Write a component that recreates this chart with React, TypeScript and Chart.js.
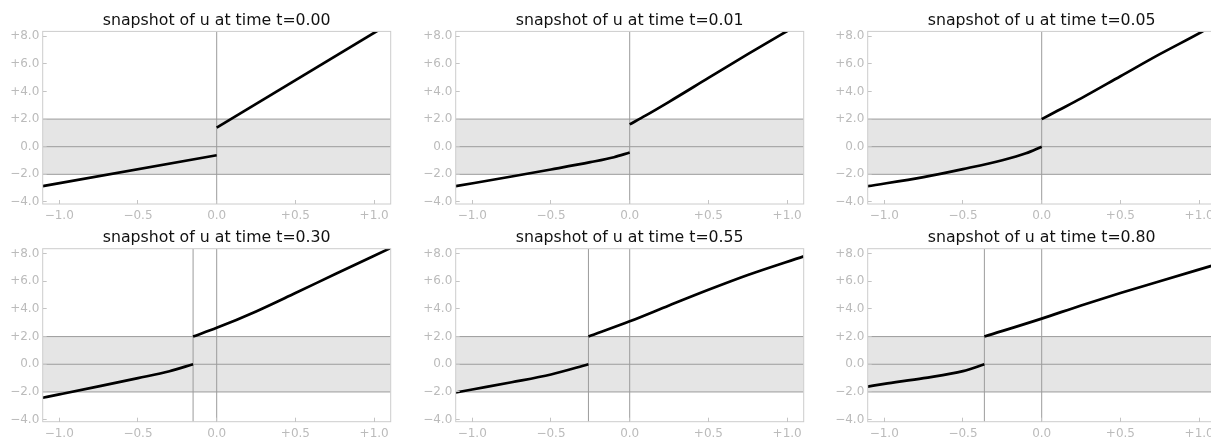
import React, { useEffect, useRef } from 'react';
import { Chart, registerables } from 'chart.js';

Chart.register(...registerables);

// ---------- data ----------
const xRange = [-1.105, 1.105];
const yRange = [-4.15, 8.35];
const xTickValues = [-1, -0.5, 0, 0.5, 1];
const xTickLabels = ['\u22121.0', '\u22120.5', '0.0', '+0.5', '+1.0'];
const yTickValues = [-4, -2, 0, 2, 4, 6, 8];
const yTickLabels = ['\u22124.0', '\u22122.0', '0.0', '+2.0', '+4.0', '+6.0', '+8.0'];
const bandLevels = [-2, 0, 2];
const times = ['0.00', '0.01', '0.05', '0.30', '0.55', '0.80'];
const shockX = [0, 0, 0, -0.15, -0.262, -0.364];

const leftT000: number[][] = [[-1.105, -2.86], [0, -0.62]];
const rightT000: number[][] = [[0, 1.38], [1.105, 8.97]];

const leftT001: number[][] = [[-1.105, -2.86], [-0.75, -2.16], [-0.5, -1.65], [-0.25, -1.12], [-0.1, -0.76], [0, -0.42]];
const rightT001: number[][] = [[0, 1.62], [0.1, 2.25], [0.25, 3.25], [0.5, 4.98], [0.75, 6.7], [1.0, 8.38], [1.105, 9.08]];

const leftT005: number[][] = [[-1.105, -2.86], [-0.75, -2.2], [-0.5, -1.62], [-0.25, -0.98], [-0.1, -0.48], [0, 0]];
const rightT005: number[][] = [[0, 2.0], [0.1, 2.6], [0.25, 3.5], [0.5, 5.1], [0.75, 6.7], [1.017, 8.32], [1.105, 8.9]];

const leftT030: number[][] = [[-1.105, -2.42], [-1.0, -2.18], [-0.75, -1.6], [-0.5, -1.0], [-0.3, -0.5], [-0.15, 0]];
const rightT030: number[][] = [[-0.15, 2.0], [0, 2.63], [0.25, 3.82], [0.5, 5.15], [0.75, 6.5], [1.105, 8.4]];

const leftT055: number[][] = [[-1.105, -2.04], [-1.0, -1.82], [-0.75, -1.3], [-0.5, -0.74], [-0.262, 0]];
const rightT055: number[][] = [[-0.262, 2.0], [0, 3.1], [0.25, 4.25], [0.5, 5.38], [0.75, 6.45], [1.105, 7.8]];

const leftT080: number[][] = [[-1.105, -1.61], [-1.0, -1.42], [-0.75, -1.0], [-0.5, -0.5], [-0.364, 0]];
const rightT080: number[][] = [[-0.364, 2.0], [0, 3.3], [0.25, 4.25], [0.5, 5.15], [0.75, 6.0], [1.105, 7.2]];

const leftCurves = [leftT000, leftT001, leftT005, leftT030, leftT055, leftT080];
const rightCurves = [rightT000, rightT001, rightT005, rightT030, rightT055, rightT080];

// ---------- layout ----------
const COL_LEFT = [0, 413, 825];
const ROW_TOP = [0, 217];
const ROW_H = [225, 222];
const CANVAS_W = 401;
const Y_AXIS_W = 42.7;
const PLOT_W = 348;
const X_AXIS_H = [21, 17.3];
const TITLE_PAD = [{ top: 11.4, bottom: 1.1 }, { top: 11.7, bottom: 1.1 }];

const FONT = 'DejaVu Sans';

const toPts = (arr: number[][]) => arr.map(([x, y]) => ({ x, y }));

const frame = {
  id: 'frame',
  afterDatasetsDraw(chart: any) {
    const { ctx, chartArea } = chart;
    ctx.save();
    ctx.strokeStyle = '#cccccc';
    ctx.lineWidth = 1;
    ctx.strokeRect(chartArea.left, chartArea.top, chartArea.right - chartArea.left, chartArea.bottom - chartArea.top);
    ctx.restore();
  },
};

function makeConfig(i: number) {
  const row = Math.floor(i / 3);
  const curveStyle = {
    borderColor: '#000000',
    borderWidth: 2.7,
    pointRadius: 0,
    fill: false,
    cubicInterpolationMode: 'monotone',
    clip: 0,
    order: 0,
  };
  const gray = { borderColor: '#9c9c9c', borderWidth: 1, pointRadius: 0, fill: false, clip: 0, order: 1 };
  const verticals = i >= 3 ? [0, shockX[i]] : [0];
  const datasets: any[] = [
    { ...curveStyle, data: toPts(leftCurves[i]) },
    { ...curveStyle, data: toPts(rightCurves[i]) },
    ...bandLevels.map((lv) => ({ ...gray, data: [{ x: xRange[0], y: lv }, { x: xRange[1], y: lv }] })),
    ...verticals.map((v) => ({ ...gray, data: [{ x: v, y: yRange[0] }, { x: v, y: yRange[1] }] })),
    {
      data: [{ x: xRange[0], y: bandLevels[2] }, { x: xRange[1], y: bandLevels[2] }],
      borderWidth: 0,
      pointRadius: 0,
      backgroundColor: '#e5e5e5',
      fill: { value: bandLevels[0] },
      clip: 0,
      order: 2,
    },
  ];
  const tickFont = { family: FONT, size: 12 };
  return {
    type: 'line',
    data: { datasets },
    options: {
      animation: false,
      responsive: false,
      events: [],
      layout: { padding: { left: 0, right: CANVAS_W - Y_AXIS_W - PLOT_W, top: 0, bottom: 0 } },
      plugins: {
        legend: { display: false },
        tooltip: { enabled: false },
        title: {
          display: true,
          text: 'snapshot of u at time t=' + times[i],
          fullSize: false,
          color: '#111111',
          font: { family: FONT, size: 15.75, weight: 'normal', lineHeight: 1.2 },
          padding: TITLE_PAD[row],
        },
      },
      scales: {
        x: {
          type: 'linear',
          min: xRange[0],
          max: xRange[1],
          afterBuildTicks: (s: any) => { s.ticks = xTickValues.map((v) => ({ value: v })); },
          afterFit: (s: any) => { s.height = X_AXIS_H[row]; },
          grid: { drawOnChartArea: false, drawTicks: true, tickLength: -4, color: '#c4c4c4', z: 1 },
          border: { display: false },
          ticks: {
            padding: 8.5,
            color: '#bbbbbb',
            font: tickFont,
            maxRotation: 0,
            autoSkip: false,
            callback: (_v: any, idx: number) => xTickLabels[idx],
          },
        },
        y: {
          type: 'linear',
          min: yRange[0],
          max: yRange[1],
          afterBuildTicks: (s: any) => { s.ticks = yTickValues.map((v) => ({ value: v })); },
          afterFit: (s: any) => { s.width = Y_AXIS_W; },
          grid: { drawOnChartArea: false, drawTicks: true, tickLength: -4, color: '#c4c4c4', z: 1 },
          border: { display: false },
          ticks: {
            padding: 7.4,
            color: '#bbbbbb',
            font: tickFont,
            autoSkip: false,
            callback: (_v: any, idx: number) => yTickLabels[idx],
          },
        },
      },
    },
    plugins: [frame],
  };
}

function Panel({ index }: { index: number }) {
  const ref = useRef<HTMLCanvasElement | null>(null);
  useEffect(() => {
    if (!ref.current) return;
    const chart = new Chart(ref.current, makeConfig(index) as any);
    return () => chart.destroy();
  }, [index]);
  const row = Math.floor(index / 3);
  const col = index % 3;
  return (
    <canvas
      ref={ref}
      width={CANVAS_W}
      height={ROW_H[row]}
      style={{ position: 'absolute', left: COL_LEFT[col], top: ROW_TOP[row], width: CANVAS_W, height: ROW_H[row] }}
    />
  );
}

export default function App() {
  return (
    <div style={{ position: 'fixed', left: 0, top: 0, width: 1211, height: 439, overflow: 'hidden', background: '#ffffff' }}>
      {times.map((_t, i) => (
        <Panel key={i} index={i} />
      ))}
    </div>
  );
}
